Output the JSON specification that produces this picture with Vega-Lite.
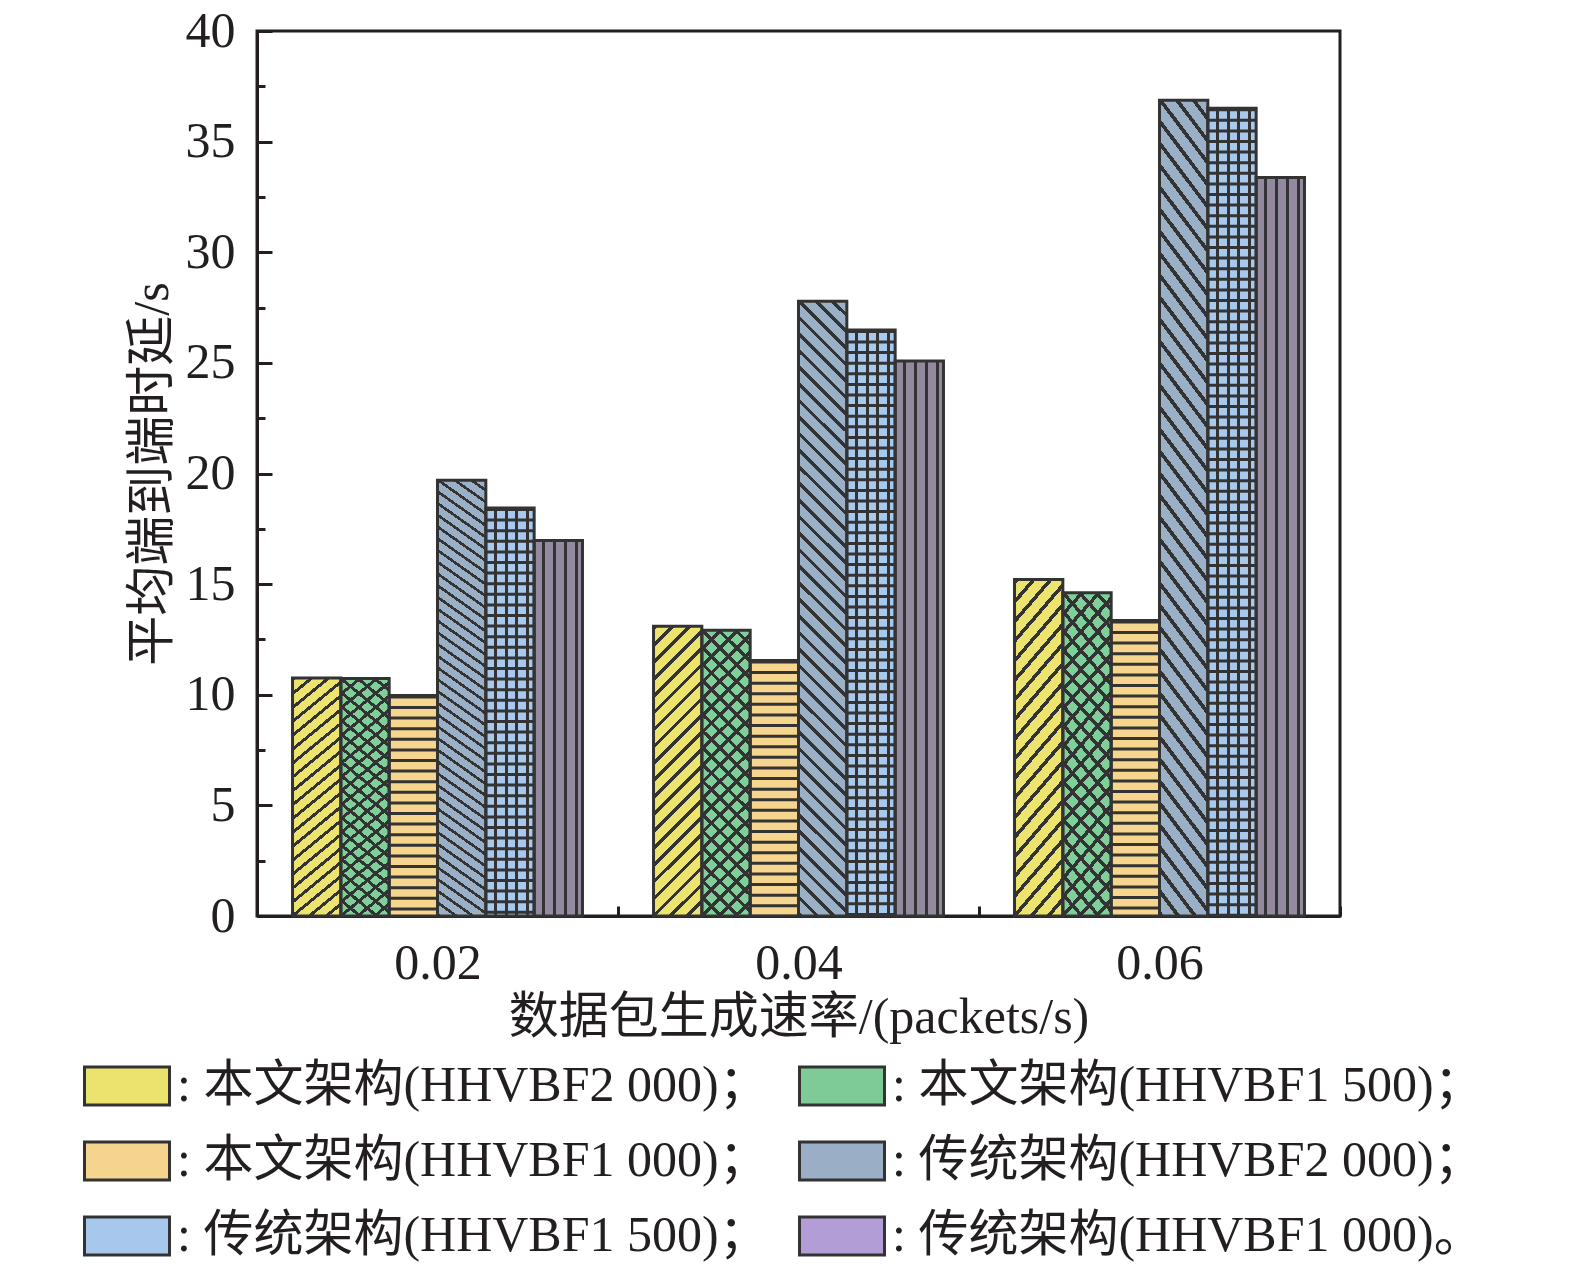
{
"$schema": "https://vega.github.io/schema/vega-lite/v6.json",
"width": 1083,
"height": 885,
"autosize": {"type": "none"},
"padding": {"left": 257, "top": 31, "right": 235, "bottom": 353},
"background": "white",
"data": {"values": [
{"rate": "0.02", "series": "本文架构(HHVBF2 000)", "value": 10.76},
{"rate": "0.02", "series": "本文架构(HHVBF1 500)", "value": 10.74},
{"rate": "0.02", "series": "本文架构(HHVBF1 000)", "value": 9.97},
{"rate": "0.02", "series": "传统架构(HHVBF2 000)", "value": 19.69},
{"rate": "0.02", "series": "传统架构(HHVBF1 500)", "value": 18.44},
{"rate": "0.02", "series": "传统架构(HHVBF1 000)", "value": 16.97},
{"rate": "0.04", "series": "本文架构(HHVBF2 000)", "value": 13.1},
{"rate": "0.04", "series": "本文架构(HHVBF1 500)", "value": 12.92},
{"rate": "0.04", "series": "本文架构(HHVBF1 000)", "value": 11.55},
{"rate": "0.04", "series": "传统架构(HHVBF2 000)", "value": 27.78},
{"rate": "0.04", "series": "传统架构(HHVBF1 500)", "value": 26.49},
{"rate": "0.04", "series": "传统架构(HHVBF1 000)", "value": 25.09},
{"rate": "0.06", "series": "本文架构(HHVBF2 000)", "value": 15.21},
{"rate": "0.06", "series": "本文架构(HHVBF1 500)", "value": 14.61},
{"rate": "0.06", "series": "本文架构(HHVBF1 000)", "value": 13.36},
{"rate": "0.06", "series": "传统架构(HHVBF2 000)", "value": 36.87},
{"rate": "0.06", "series": "传统架构(HHVBF1 500)", "value": 36.51},
{"rate": "0.06", "series": "传统架构(HHVBF1 000)", "value": 33.38}
]},
"encoding": {
  "x": {"field": "rate", "type": "nominal", "title": "数据包生成速率/(packets/s)",
        "scale": {"paddingInner": 0, "paddingOuter": 0},
        "axis": {"labelAngle": 0, "tickBand": "extent", "tickSize": -10, "labelPadding": 32, "titlePadding": 4}},
  "xOffset": {"field": "series", "type": "nominal",
        "scale": {"domain": ["本文架构(HHVBF2 000)", "本文架构(HHVBF1 500)", "本文架构(HHVBF1 000)", "传统架构(HHVBF2 000)", "传统架构(HHVBF1 500)", "传统架构(HHVBF1 000)"], "paddingInner": 0, "paddingOuter": 0.735}},
  "y": {"field": "value", "type": "quantitative", "title": "平均端到端时延/s",
        "scale": {"domain": [0, 40], "nice": false},
        "axis": {"values": [0, 2.5, 5, 7.5, 10, 12.5, 15, 17.5, 20, 22.5, 25, 27.5, 30, 32.5, 35, 37.5, 40],
                 "labelExpr": "datum.value % 5 == 0 ? datum.label : ''",
                 "tickSize": {"condition": {"test": "datum.value % 5 == 0", "value": -15}, "value": -8},
                 "labelPadding": 37, "titlePadding": 8}}
},
"layer": [
  {"mark": {"type": "bar"},
   "encoding": {"fill": {"field": "series", "type": "nominal",
     "scale": {"domain": ["本文架构(HHVBF2 000)", "本文架构(HHVBF1 000)", "传统架构(HHVBF1 500)", "本文架构(HHVBF1 500)", "传统架构(HHVBF2 000)", "传统架构(HHVBF1 000)"],
               "range": ["#EAE36E", "#F5D58E", "#A7C8EC", "#7ECB97", "#9AAFC6", "#B39DD6"]},
     "legend": {"orient": "none", "legendX": -174, "legendY": 1011, "columns": 2, "title": null,
                "symbolType": "M-1,-0.447L1,-0.447L1,0.447L-1,0.447Z", "symbolSize": 7225,
                "symbolStrokeColor": "#333", "symbolStrokeWidth": 3, "symbolOpacity": 1,
                "labelFont": "Liberation Serif, Noto Sans CJK SC", "labelFontSize": 50, "labelColor": "#231f20",
                "labelOffset": 6, "labelLimit": 1000, "rowPadding": 6, "columnPadding": 24,
                "labelExpr": "': ' + datum.label + (datum.label == '传统架构(HHVBF1 000)' ? '。' : '；')"}}}},
  {"mark": {"type": "bar"},
   "encoding": {"fill": {"condition": [
     {"test": "datum.series == '本文架构(HHVBF2 000)'", "value": "#ECE46E"},
     {"test": "datum.series == '本文架构(HHVBF1 500)'", "value": "#7FCF9A"},
     {"test": "datum.series == '本文架构(HHVBF1 000)'", "value": "#F6D68E"},
     {"test": "datum.series == '传统架构(HHVBF2 000)'", "value": "#9AB0C7"},
     {"test": "datum.series == '传统架构(HHVBF1 500)'", "value": "#A8C9EC"}
   ], "value": "#948AA0"}}},
  {"transform": [{"filter": "datum.series == '本文架构(HHVBF1 000)' || datum.series == '传统架构(HHVBF1 500)'"}],
   "mark": {"type": "rule", "strokeWidth": 48, "strokeDash": [3, 7.6], "strokeCap": "butt", "color": "#333"},
   "encoding": {"y2": {"datum": 0}}},
  {"mark": {"type": "bar"},
   "encoding": {"fill": {"condition": [
     {"test": "datum.series == '本文架构(HHVBF2 000)' || datum.series == '本文架构(HHVBF1 500)'",
      "value": {"gradient": "linear", "x1": 0, "y1": 0, "x2": 0.189, "y2": 1.135, "stops": [
{"offset":0,"color":"#333"},{"offset":0.014,"color":"#333"},{"offset":0.014,"color":"transparent"},{"offset":0.05,"color":"transparent"},
{"offset":0.05,"color":"#333"},{"offset":0.064,"color":"#333"},{"offset":0.064,"color":"transparent"},{"offset":0.1,"color":"transparent"},
{"offset":0.1,"color":"#333"},{"offset":0.114,"color":"#333"},{"offset":0.114,"color":"transparent"},{"offset":0.15,"color":"transparent"},
{"offset":0.15,"color":"#333"},{"offset":0.164,"color":"#333"},{"offset":0.164,"color":"transparent"},{"offset":0.2,"color":"transparent"},
{"offset":0.2,"color":"#333"},{"offset":0.214,"color":"#333"},{"offset":0.214,"color":"transparent"},{"offset":0.25,"color":"transparent"},
{"offset":0.25,"color":"#333"},{"offset":0.264,"color":"#333"},{"offset":0.264,"color":"transparent"},{"offset":0.3,"color":"transparent"},
{"offset":0.3,"color":"#333"},{"offset":0.314,"color":"#333"},{"offset":0.314,"color":"transparent"},{"offset":0.35,"color":"transparent"},
{"offset":0.35,"color":"#333"},{"offset":0.364,"color":"#333"},{"offset":0.364,"color":"transparent"},{"offset":0.4,"color":"transparent"},
{"offset":0.4,"color":"#333"},{"offset":0.414,"color":"#333"},{"offset":0.414,"color":"transparent"},{"offset":0.45,"color":"transparent"},
{"offset":0.45,"color":"#333"},{"offset":0.464,"color":"#333"},{"offset":0.464,"color":"transparent"},{"offset":0.5,"color":"transparent"},
{"offset":0.5,"color":"#333"},{"offset":0.514,"color":"#333"},{"offset":0.514,"color":"transparent"},{"offset":0.55,"color":"transparent"},
{"offset":0.55,"color":"#333"},{"offset":0.564,"color":"#333"},{"offset":0.564,"color":"transparent"},{"offset":0.6,"color":"transparent"},
{"offset":0.6,"color":"#333"},{"offset":0.614,"color":"#333"},{"offset":0.614,"color":"transparent"},{"offset":0.65,"color":"transparent"},
{"offset":0.65,"color":"#333"},{"offset":0.664,"color":"#333"},{"offset":0.664,"color":"transparent"},{"offset":0.7,"color":"transparent"},
{"offset":0.7,"color":"#333"},{"offset":0.714,"color":"#333"},{"offset":0.714,"color":"transparent"},{"offset":0.75,"color":"transparent"},
{"offset":0.75,"color":"#333"},{"offset":0.764,"color":"#333"},{"offset":0.764,"color":"transparent"},{"offset":0.8,"color":"transparent"},
{"offset":0.8,"color":"#333"},{"offset":0.814,"color":"#333"},{"offset":0.814,"color":"transparent"},{"offset":0.85,"color":"transparent"},
{"offset":0.85,"color":"#333"},{"offset":0.864,"color":"#333"},{"offset":0.864,"color":"transparent"},{"offset":0.9,"color":"transparent"},
{"offset":0.9,"color":"#333"},{"offset":0.914,"color":"#333"},{"offset":0.914,"color":"transparent"},{"offset":0.95,"color":"transparent"},
{"offset":0.95,"color":"#333"},{"offset":0.964,"color":"#333"},{"offset":0.964,"color":"transparent"},{"offset":1,"color":"transparent"}
      ]}},
     {"test": "datum.series == '传统架构(HHVBF2 000)'",
      "value": {"gradient": "linear", "x1": 0, "y1": 1, "x2": 0.084, "y2": -0.072, "stops": [
{"offset":0,"color":"#333"},{"offset":0.007,"color":"#333"},{"offset":0.007,"color":"transparent"},{"offset":0.025,"color":"transparent"},
{"offset":0.025,"color":"#333"},{"offset":0.032,"color":"#333"},{"offset":0.032,"color":"transparent"},{"offset":0.05,"color":"transparent"},
{"offset":0.05,"color":"#333"},{"offset":0.057,"color":"#333"},{"offset":0.057,"color":"transparent"},{"offset":0.075,"color":"transparent"},
{"offset":0.075,"color":"#333"},{"offset":0.082,"color":"#333"},{"offset":0.082,"color":"transparent"},{"offset":0.1,"color":"transparent"},
{"offset":0.1,"color":"#333"},{"offset":0.107,"color":"#333"},{"offset":0.107,"color":"transparent"},{"offset":0.125,"color":"transparent"},
{"offset":0.125,"color":"#333"},{"offset":0.132,"color":"#333"},{"offset":0.132,"color":"transparent"},{"offset":0.15,"color":"transparent"},
{"offset":0.15,"color":"#333"},{"offset":0.157,"color":"#333"},{"offset":0.157,"color":"transparent"},{"offset":0.175,"color":"transparent"},
{"offset":0.175,"color":"#333"},{"offset":0.182,"color":"#333"},{"offset":0.182,"color":"transparent"},{"offset":0.2,"color":"transparent"},
{"offset":0.2,"color":"#333"},{"offset":0.207,"color":"#333"},{"offset":0.207,"color":"transparent"},{"offset":0.225,"color":"transparent"},
{"offset":0.225,"color":"#333"},{"offset":0.232,"color":"#333"},{"offset":0.232,"color":"transparent"},{"offset":0.25,"color":"transparent"},
{"offset":0.25,"color":"#333"},{"offset":0.257,"color":"#333"},{"offset":0.257,"color":"transparent"},{"offset":0.275,"color":"transparent"},
{"offset":0.275,"color":"#333"},{"offset":0.282,"color":"#333"},{"offset":0.282,"color":"transparent"},{"offset":0.3,"color":"transparent"},
{"offset":0.3,"color":"#333"},{"offset":0.307,"color":"#333"},{"offset":0.307,"color":"transparent"},{"offset":0.325,"color":"transparent"},
{"offset":0.325,"color":"#333"},{"offset":0.332,"color":"#333"},{"offset":0.332,"color":"transparent"},{"offset":0.35,"color":"transparent"},
{"offset":0.35,"color":"#333"},{"offset":0.357,"color":"#333"},{"offset":0.357,"color":"transparent"},{"offset":0.375,"color":"transparent"},
{"offset":0.375,"color":"#333"},{"offset":0.382,"color":"#333"},{"offset":0.382,"color":"transparent"},{"offset":0.4,"color":"transparent"},
{"offset":0.4,"color":"#333"},{"offset":0.407,"color":"#333"},{"offset":0.407,"color":"transparent"},{"offset":0.425,"color":"transparent"},
{"offset":0.425,"color":"#333"},{"offset":0.432,"color":"#333"},{"offset":0.432,"color":"transparent"},{"offset":0.45,"color":"transparent"},
{"offset":0.45,"color":"#333"},{"offset":0.457,"color":"#333"},{"offset":0.457,"color":"transparent"},{"offset":0.475,"color":"transparent"},
{"offset":0.475,"color":"#333"},{"offset":0.482,"color":"#333"},{"offset":0.482,"color":"transparent"},{"offset":0.5,"color":"transparent"},
{"offset":0.5,"color":"#333"},{"offset":0.507,"color":"#333"},{"offset":0.507,"color":"transparent"},{"offset":0.525,"color":"transparent"},
{"offset":0.525,"color":"#333"},{"offset":0.532,"color":"#333"},{"offset":0.532,"color":"transparent"},{"offset":0.55,"color":"transparent"},
{"offset":0.55,"color":"#333"},{"offset":0.557,"color":"#333"},{"offset":0.557,"color":"transparent"},{"offset":0.575,"color":"transparent"},
{"offset":0.575,"color":"#333"},{"offset":0.582,"color":"#333"},{"offset":0.582,"color":"transparent"},{"offset":0.6,"color":"transparent"},
{"offset":0.6,"color":"#333"},{"offset":0.607,"color":"#333"},{"offset":0.607,"color":"transparent"},{"offset":0.625,"color":"transparent"},
{"offset":0.625,"color":"#333"},{"offset":0.632,"color":"#333"},{"offset":0.632,"color":"transparent"},{"offset":0.65,"color":"transparent"},
{"offset":0.65,"color":"#333"},{"offset":0.657,"color":"#333"},{"offset":0.657,"color":"transparent"},{"offset":0.675,"color":"transparent"},
{"offset":0.675,"color":"#333"},{"offset":0.682,"color":"#333"},{"offset":0.682,"color":"transparent"},{"offset":0.7,"color":"transparent"},
{"offset":0.7,"color":"#333"},{"offset":0.707,"color":"#333"},{"offset":0.707,"color":"transparent"},{"offset":0.725,"color":"transparent"},
{"offset":0.725,"color":"#333"},{"offset":0.732,"color":"#333"},{"offset":0.732,"color":"transparent"},{"offset":0.75,"color":"transparent"},
{"offset":0.75,"color":"#333"},{"offset":0.757,"color":"#333"},{"offset":0.757,"color":"transparent"},{"offset":0.775,"color":"transparent"},
{"offset":0.775,"color":"#333"},{"offset":0.782,"color":"#333"},{"offset":0.782,"color":"transparent"},{"offset":0.8,"color":"transparent"},
{"offset":0.8,"color":"#333"},{"offset":0.807,"color":"#333"},{"offset":0.807,"color":"transparent"},{"offset":0.825,"color":"transparent"},
{"offset":0.825,"color":"#333"},{"offset":0.832,"color":"#333"},{"offset":0.832,"color":"transparent"},{"offset":0.85,"color":"transparent"},
{"offset":0.85,"color":"#333"},{"offset":0.857,"color":"#333"},{"offset":0.857,"color":"transparent"},{"offset":0.875,"color":"transparent"},
{"offset":0.875,"color":"#333"},{"offset":0.882,"color":"#333"},{"offset":0.882,"color":"transparent"},{"offset":0.9,"color":"transparent"},
{"offset":0.9,"color":"#333"},{"offset":0.907,"color":"#333"},{"offset":0.907,"color":"transparent"},{"offset":0.925,"color":"transparent"},
{"offset":0.925,"color":"#333"},{"offset":0.932,"color":"#333"},{"offset":0.932,"color":"transparent"},{"offset":0.95,"color":"transparent"},
{"offset":0.95,"color":"#333"},{"offset":0.957,"color":"#333"},{"offset":0.957,"color":"transparent"},{"offset":0.975,"color":"transparent"},
{"offset":0.975,"color":"#333"},{"offset":0.982,"color":"#333"},{"offset":0.982,"color":"transparent"},{"offset":1,"color":"transparent"}
      ]}},
     {"test": "datum.series == '传统架构(HHVBF1 500)' || datum.series == '传统架构(HHVBF1 000)'",
      "value": {"gradient": "linear", "x1": 0, "y1": 0, "x2": 1, "y2": 0, "stops": [
{"offset":0,"color":"transparent"},{"offset":0.17,"color":"transparent"},{"offset":0.17,"color":"#333"},{"offset":0.232,"color":"#333"},
{"offset":0.232,"color":"transparent"},{"offset":0.39,"color":"transparent"},{"offset":0.39,"color":"#333"},{"offset":0.452,"color":"#333"},
{"offset":0.452,"color":"transparent"},{"offset":0.61,"color":"transparent"},{"offset":0.61,"color":"#333"},{"offset":0.672,"color":"#333"},
{"offset":0.672,"color":"transparent"},{"offset":0.835,"color":"transparent"},{"offset":0.835,"color":"#333"},{"offset":0.897,"color":"#333"},
{"offset":0.897,"color":"transparent"},{"offset":1,"color":"transparent"}
      ]}}
   ], "value": "transparent"}}},
  {"transform": [{"filter": "datum.series == '本文架构(HHVBF1 500)'"}],
   "mark": {"type": "bar", "fill": {"gradient": "linear", "x1": 0, "y1": 1, "x2": 0.19, "y2": -0.135, "stops": [
{"offset":0,"color":"#333"},{"offset":0.014,"color":"#333"},{"offset":0.014,"color":"transparent"},{"offset":0.05,"color":"transparent"},
{"offset":0.05,"color":"#333"},{"offset":0.064,"color":"#333"},{"offset":0.064,"color":"transparent"},{"offset":0.1,"color":"transparent"},
{"offset":0.1,"color":"#333"},{"offset":0.114,"color":"#333"},{"offset":0.114,"color":"transparent"},{"offset":0.15,"color":"transparent"},
{"offset":0.15,"color":"#333"},{"offset":0.164,"color":"#333"},{"offset":0.164,"color":"transparent"},{"offset":0.2,"color":"transparent"},
{"offset":0.2,"color":"#333"},{"offset":0.214,"color":"#333"},{"offset":0.214,"color":"transparent"},{"offset":0.25,"color":"transparent"},
{"offset":0.25,"color":"#333"},{"offset":0.264,"color":"#333"},{"offset":0.264,"color":"transparent"},{"offset":0.3,"color":"transparent"},
{"offset":0.3,"color":"#333"},{"offset":0.314,"color":"#333"},{"offset":0.314,"color":"transparent"},{"offset":0.35,"color":"transparent"},
{"offset":0.35,"color":"#333"},{"offset":0.364,"color":"#333"},{"offset":0.364,"color":"transparent"},{"offset":0.4,"color":"transparent"},
{"offset":0.4,"color":"#333"},{"offset":0.414,"color":"#333"},{"offset":0.414,"color":"transparent"},{"offset":0.45,"color":"transparent"},
{"offset":0.45,"color":"#333"},{"offset":0.464,"color":"#333"},{"offset":0.464,"color":"transparent"},{"offset":0.5,"color":"transparent"},
{"offset":0.5,"color":"#333"},{"offset":0.514,"color":"#333"},{"offset":0.514,"color":"transparent"},{"offset":0.55,"color":"transparent"},
{"offset":0.55,"color":"#333"},{"offset":0.564,"color":"#333"},{"offset":0.564,"color":"transparent"},{"offset":0.6,"color":"transparent"},
{"offset":0.6,"color":"#333"},{"offset":0.614,"color":"#333"},{"offset":0.614,"color":"transparent"},{"offset":0.65,"color":"transparent"},
{"offset":0.65,"color":"#333"},{"offset":0.664,"color":"#333"},{"offset":0.664,"color":"transparent"},{"offset":0.7,"color":"transparent"},
{"offset":0.7,"color":"#333"},{"offset":0.714,"color":"#333"},{"offset":0.714,"color":"transparent"},{"offset":0.75,"color":"transparent"},
{"offset":0.75,"color":"#333"},{"offset":0.764,"color":"#333"},{"offset":0.764,"color":"transparent"},{"offset":0.8,"color":"transparent"},
{"offset":0.8,"color":"#333"},{"offset":0.814,"color":"#333"},{"offset":0.814,"color":"transparent"},{"offset":0.85,"color":"transparent"},
{"offset":0.85,"color":"#333"},{"offset":0.864,"color":"#333"},{"offset":0.864,"color":"transparent"},{"offset":0.9,"color":"transparent"},
{"offset":0.9,"color":"#333"},{"offset":0.914,"color":"#333"},{"offset":0.914,"color":"transparent"},{"offset":0.95,"color":"transparent"},
{"offset":0.95,"color":"#333"},{"offset":0.964,"color":"#333"},{"offset":0.964,"color":"transparent"},{"offset":1,"color":"transparent"}
   ]}}},
  {"mark": {"type": "bar", "fill": "transparent", "stroke": "#333", "strokeWidth": 3}}
],
"config": {
  "view": {"stroke": "#231f20", "strokeWidth": 3},
  "axis": {"labelFont": "Liberation Serif", "labelFontSize": 50, "labelColor": "#231f20",
           "titleFont": "Liberation Serif, Noto Sans CJK SC", "titleFontSize": 50, "titleFontWeight": "normal", "titleColor": "#231f20",
           "domainColor": "#231f20", "domainWidth": 3, "tickColor": "#231f20", "tickWidth": 3, "grid": false}
}
}
